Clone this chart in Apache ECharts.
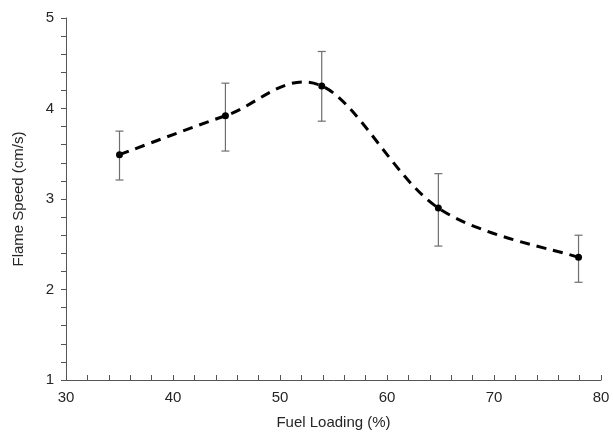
<!DOCTYPE html>
<html>
<head>
<meta charset="utf-8">
<script src="https://cdn.jsdelivr.net/npm/echarts@6/dist/echarts.min.js"></script>
<style>
  html, body { margin: 0; padding: 0; background: #fff; }
  #chart { width: 613px; height: 435px; }
</style>
</head>
<body>
<div id="chart"></div>
<script>
// fuel loading (%) and measured flame speed (cm/s)
const fuelLoading = [35, 44.9, 53.9, 64.8, 77.9]
const flameSpeed = [3.49, 3.92, 4.25, 2.90, 2.355]
const errHigh = [3.75, 4.28, 4.63, 3.28, 2.60]
const errLow = [3.21, 3.53, 3.86, 2.48, 2.08]

const axisColor = '#555'
const textColor = '#262626'
const font = 'Liberation Sans, Arial, sans-serif'

const chart = echarts.init(document.getElementById('chart'))

const points = fuelLoading.map((x, i) => [x, flameSpeed[i]])
const bars = fuelLoading.map((x, i) => [x, errLow[i], errHigh[i]])

// spreadsheet-style smoothed line (catmull-rom bezier through the points)
function smoothPath(api) {
  const p = points.map(d => api.coord(d))
  let d = 'M' + p[0][0] + ' ' + p[0][1]
  for (let i = 0; i < p.length - 1; i++) {
    const p0 = p[i - 1] || p[i]
    const p1 = p[i]
    const p2 = p[i + 1]
    const p3 = p[i + 2] || p[i + 1]
    const c1 = [p1[0] + (p2[0] - p0[0]) / 6, p1[1] + (p2[1] - p0[1]) / 6]
    const c2 = [p2[0] - (p3[0] - p1[0]) / 6, p2[1] - (p3[1] - p1[1]) / 6]
    d += ' C' + c1.join(' ') + ' ' + c2.join(' ') + ' ' + p2.join(' ')
  }
  return d
}

chart.setOption({
  animation: false,
  grid: { left: 66, right: 12, top: 18, bottom: 52 },
  xAxis: {
    type: 'value',
    min: 30,
    max: 80,
    interval: 10,
    name: 'Fuel Loading (%)',
    nameLocation: 'middle',
    nameGap: 35,
    nameTextStyle: { color: textColor, fontSize: 15, fontFamily: font },
    axisLine: { lineStyle: { color: axisColor, width: 1 } },
    axisTick: { inside: true, length: 5, lineStyle: { color: axisColor } },
    minorTick: { show: true, splitNumber: 5, length: 5, lineStyle: { color: axisColor } },
    axisLabel: { color: textColor, fontSize: 15, fontFamily: font, margin: 10 },
    splitLine: { show: false }
  },
  yAxis: {
    type: 'value',
    min: 1,
    max: 5,
    interval: 1,
    name: 'Flame Speed (cm/s)',
    nameLocation: 'middle',
    nameGap: 40,
    nameTextStyle: { color: textColor, fontSize: 15, fontFamily: font },
    axisLine: { show: true, lineStyle: { color: axisColor, width: 1 } },
    axisTick: { show: true, length: 5, lineStyle: { color: axisColor } },
    minorTick: { show: true, splitNumber: 5, length: 5, lineStyle: { color: axisColor } },
    axisLabel: { color: textColor, fontSize: 15, fontFamily: font, margin: 12 },
    splitLine: { show: false }
  },
  series: [
    {
      type: 'custom',
      data: bars,
      z: 1,
      renderItem(params, api) {
        const x = api.value(0)
        const lo = api.coord([x, api.value(1)])
        const hi = api.coord([x, api.value(2)])
        const cap = 4
        const style = { stroke: '#6e6e6e', lineWidth: 1.2 }
        return {
          type: 'group',
          children: [
            { type: 'line', shape: { x1: lo[0], y1: lo[1], x2: hi[0], y2: hi[1] }, style },
            { type: 'line', shape: { x1: hi[0] - cap, y1: hi[1], x2: hi[0] + cap, y2: hi[1] }, style },
            { type: 'line', shape: { x1: lo[0] - cap, y1: lo[1], x2: lo[0] + cap, y2: lo[1] }, style }
          ]
        }
      }
    },
    {
      type: 'custom',
      data: points,
      z: 2,
      renderItem(params, api) {
        if (params.dataIndex !== 0) return null
        return {
          type: 'path',
          shape: { pathData: smoothPath(api) },
          style: { stroke: '#000', fill: 'none', lineWidth: 3, lineDash: [10, 7] }
        }
      }
    },
    {
      type: 'scatter',
      data: points,
      z: 3,
      symbol: 'circle',
      symbolSize: 7,
      itemStyle: { color: '#000', opacity: 1 }
    }
  ]
})
</script>
</body>
</html>
